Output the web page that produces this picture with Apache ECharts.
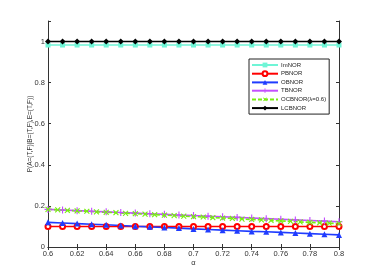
<!DOCTYPE html>
<html><head><meta charset="utf-8">
<script src="https://cdn.jsdelivr.net/npm/echarts@6/dist/echarts.min.js"></script>
<style>html,body{margin:0;padding:0;background:#fff}#c{width:374px;height:280px}</style>
</head><body><div id="c"></div>
<script>
const alphaX = [0.60,0.61,0.62,0.63,0.64,0.65,0.66,0.67,0.68,0.69,0.70,0.71,0.72,0.73,0.74,0.75,0.76,0.77,0.78,0.79,0.80];
const imNOR  = [0.983,0.983,0.983,0.983,0.983,0.983,0.983,0.983,0.983,0.983,0.983,0.983,0.983,0.983,0.983,0.983,0.983,0.983,0.983,0.983,0.983];
const pbNOR  = [0.100,0.100,0.100,0.100,0.100,0.100,0.100,0.100,0.100,0.100,0.100,0.100,0.100,0.100,0.100,0.100,0.100,0.100,0.100,0.100,0.100];
const obNOR  = [0.120,0.117,0.114,0.111,0.108,0.105,0.101,0.098,0.095,0.092,0.088,0.085,0.082,0.079,0.076,0.074,0.071,0.068,0.065,0.062,0.059];
const tbNOR  = [0.183,0.180,0.177,0.174,0.171,0.168,0.165,0.162,0.159,0.156,0.153,0.150,0.147,0.144,0.141,0.138,0.135,0.132,0.129,0.126,0.123];
const lcbNOR = [1,1,1,1,1,1,1,1,1,1,1,1,1,1,1,1,1,1,1,1,1];
const ocbX   = [0.6000,0.6067,0.6133,0.6200,0.6267,0.6333,0.6400,0.6467,0.6533,0.6600,0.6667,0.6733,0.6800,0.6867,0.6933,0.7000,0.7067,0.7133,0.7200,0.7267,0.7333,0.7400,0.7467,0.7533,0.7600,0.7667,0.7733,0.7800,0.7867,0.7933,0.8000];
const ocbNOR = [0.183,0.181,0.178,0.176,0.174,0.171,0.169,0.167,0.164,0.162,0.160,0.157,0.155,0.153,0.150,0.148,0.146,0.143,0.141,0.139,0.136,0.134,0.132,0.129,0.127,0.125,0.122,0.120,0.118,0.116,0.114];
const xTicks = ['0.6','0.62','0.64','0.66','0.68','0.7','0.72','0.74','0.76','0.78','0.8'];
const yTicks = ['0','0.2','0.4','0.6','0.8','1'];

const pair = (xs, ys) => xs.map((x, i) => [x, ys[i]]);
const plus = 'path://M4.2,0H5.8V4.2H10V5.8H5.8V10H4.2V5.8H0V4.2H4.2Z';
const chart = echarts.init(document.getElementById('c'), null, {renderer: 'canvas'});
const axisCol = '#333';
const lab = {fontFamily: 'Liberation Sans, Arial', fontSize: 7.5, color: '#333'};
function mk(name, data, color, symbol, size, extra) {
  return Object.assign({
    name, type: 'line', data: data, symbol, symbolSize: size,
    lineStyle: {color, width: 1.6}, itemStyle: {color},
    animation: false, z: 3
  }, extra || {});
}
chart.setOption({
  animation: false,
  grid: {left: 48, right: 35, top: 21, bottom: 33},
  legend: {
    orient: 'vertical', left: 249, top: 59, itemWidth: 26, itemHeight: 6, itemGap: 2.3,
    backgroundColor: '#fff', borderColor: '#222', borderWidth: 1, padding: [3, 3, 3, 2],
    textStyle: {fontFamily: 'Liberation Sans, Arial', fontSize: 6, color: '#222', padding: [0,0,0,-2]},
    data: ['ImNOR','PBNOR','OBNOR','TBNOR','OCBNOR(λ=0.6)','LCBNOR']
  },
  xAxis: [{
    type: 'value', min: 0.6, max: 0.8, interval: 0.02,
    name: 'α', nameLocation: 'middle', nameGap: 12, nameTextStyle: lab, nameMoveOverlap: false,
    axisLine: {lineStyle: {color: axisCol}}, axisTick: {inside: true, length: 3, lineStyle: {color: axisCol}},
    splitLine: {show: false},
    axisLabel: Object.assign({margin: 3, formatter: v => { const s = xTicks.find(t => Math.abs(parseFloat(t) - v) < 1e-6); return s || ''; }}, lab)
  }, {
    type: 'value', position: 'top', min: 0.6, max: 0.8, interval: 0.02,
    axisLine: {show: true, lineStyle: {color: axisCol}}, axisTick: {inside: true, length: 3, lineStyle: {color: axisCol}},
    axisLabel: {show: false}, splitLine: {show: false}
  }],
  yAxis: [{
    type: 'value', min: 0, max: 1.1, interval: 0.2,
    name: 'P(A=(T,F)|B=(T,F),E=(T,F))', nameLocation: 'middle', nameGap: 14, nameRotate: 90, nameMoveOverlap: false,
    nameTextStyle: {fontFamily: 'Liberation Sans, Arial', fontSize: 6.5, color: '#333'},
    axisLine: {show: true, lineStyle: {color: axisCol}}, axisTick: {inside: true, length: 3, lineStyle: {color: axisCol}},
    splitLine: {show: false},
    axisLabel: Object.assign({margin: 3, formatter: v => { const s = yTicks.find(t => Math.abs(parseFloat(t) - v) < 1e-6); return s || ''; }}, lab)
  }, {
    type: 'value', position: 'right', min: 0, max: 1.1, interval: 0.2,
    axisLine: {show: true, lineStyle: {color: axisCol}}, axisTick: {inside: true, length: 3, lineStyle: {color: axisCol}},
    axisLabel: {show: false}, splitLine: {show: false}
  }],
  series: [
    mk('ImNOR', pair(alphaX, imNOR), '#6ff5d6', 'rect', 5),
    mk('PBNOR', pair(alphaX, pbNOR), '#ff0000', 'emptyCircle', 5, {itemStyle: {color: '#ff0000', borderWidth: 1.3}}),
    mk('OBNOR', pair(alphaX, obNOR), '#1f3cff', 'triangle', 6),
    mk('TBNOR', pair(alphaX, tbNOR), '#c34fff', plus, 7),
    mk('OCBNOR(λ=0.6)', pair(ocbX, ocbNOR), '#77ee11', plus, 7, {symbolRotate: 45, lineStyle: {color: '#77ee11', width: 1.6, type: [4, 2]}}),
    mk('LCBNOR', pair(alphaX, lcbNOR), '#000000', 'diamond', 6)
  ]
});
</script></body></html>
